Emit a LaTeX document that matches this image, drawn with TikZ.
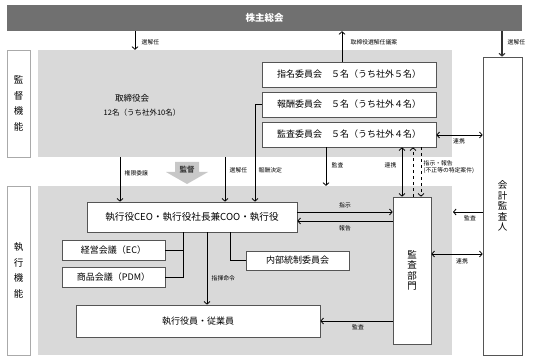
\documentclass[tikz,border=0pt]{standalone}
\usepackage{fontspec}
\newfontfamily\jp{Noto Sans CJK JP}
\usetikzlibrary{arrows.meta}
\definecolor{bardark}{HTML}{707070}
\definecolor{panel}{HTML}{D9D9D9}
\definecolor{boxline}{HTML}{555555}
\definecolor{sideline}{HTML}{AAAAAA}
\definecolor{supgray}{HTML}{C8C8C8}
\begin{document}
\begin{tikzpicture}[x=1pt,y=-1pt,
  box/.style={draw=boxline, fill=white, line width=0.7pt, inner sep=0pt, font=\jp\fontsize{9}{10.5}\selectfont},
  sidebox/.style={draw=sideline, fill=white, line width=0.6pt, inner sep=0pt, align=center, font=\jp\fontsize{9.5}{15.5}\selectfont},
  panelbox/.style={fill=panel, inner sep=0pt},
  lbl/.style={font=\jp\fontsize{5.8}{6.8}\selectfont, inner sep=0.5pt},
  arr/.style={-{Straight Barb[length=2.6pt,width=6pt]}, line width=0.8pt},
  darr/.style={{Straight Barb[length=2.6pt,width=6pt]}-{Straight Barb[length=2.6pt,width=6pt]}, line width=0.8pt},
  link/.style={line width=0.8pt}
]
\fill[white] (0,0) rectangle (534,363);
\useasboundingbox (0,0) rectangle (534,363);

% shareholders meeting
\node[fill=bardark, minimum width=515pt, minimum height=26pt, inner sep=0pt,
      text=white, font=\jp\bfseries\fontsize{9.5}{10}\selectfont] (bar) at (264.5,18) {株主総会};

% panels
\node[panelbox, minimum width=414pt, minimum height=107pt] (upper) at (245,103.5) {};
\node[panelbox, minimum width=414pt, minimum height=169pt] (lower) at (245,270.5) {};
\node[sidebox, minimum width=23pt, minimum height=107pt] (sup) at (18.5,103.5) {監\\督\\機\\能};
\node[sidebox, minimum width=23pt, minimum height=169pt] (exe) at (18.5,270.5) {執\\行\\機\\能};

% board
\node[font=\jp\fontsize{8.5}{10}\selectfont, inner sep=0pt] (board) at (132,98) {取締役会};
\node[font=\jp\fontsize{7.5}{9}\selectfont, inner sep=0pt] (boardn) at (142,113) {12名（うち社外10名）};

% committees
\node[box, minimum width=174pt, minimum height=25pt] (nom) at (349,74.5) {指名委員会　５名（うち社外５名）};
\node[box, minimum width=174pt, minimum height=25pt] (rem) at (349,104.5) {報酬委員会　５名（うち社外４名）};
\node[box, minimum width=174pt, minimum height=25pt] (aud) at (349,134.5) {監査委員会　５名（うち社外４名）};

% accounting auditor and audit department
\node[box, minimum width=39pt, minimum height=298pt, align=center, font=\jp\fontsize{9.5}{10.5}\selectfont] (acc) at (502.5,206) {会\\計\\監\\査\\人};
\node[box, minimum width=38pt, minimum height=147pt, align=center, font=\jp\fontsize{9.5}{10.5}\selectfont] (dept) at (412,270.5) {監\\査\\部\\門};

% execution boxes
\node[box, minimum width=210pt, minimum height=30pt, font=\jp\fontsize{9.6}{11}\selectfont] (ceo) at (192,217) {執行役CEO・執行役社長兼COO・執行役};
\node[box, minimum width=103pt, minimum height=20pt] (ec) at (113.5,250) {経営会議（EC）};
\node[box, minimum width=103pt, minimum height=20pt] (pdm) at (113.5,277) {商品会議（PDM）};
\node[box, minimum width=103pt, minimum height=19pt] (icc) at (297.5,260.5) {内部統制委員会};
\node[box, minimum width=244pt, minimum height=32pt] (staff) at (198,321) {執行役員・従業員};

% supervision arrow
\fill[supgray] (175,162) -- (199,162) -- (199,172) -- (208,172) -- (187,184) -- (166,172) -- (175,172) -- cycle;
\node[font=\jp\bfseries\fontsize{7.5}{9}\selectfont, text=black!75, inner sep=0pt] (suplbl) at (187,170) {監督};

% x / y helper coordinates
\coordinate (x135) at (135,0);
\coordinate (x342) at (342,0);
\coordinate (x502) at (502,0);
\coordinate (x326) at (326,0);
\coordinate (x402) at (402,0);
\coordinate (x413) at (413,0);
\coordinate (x421) at (421,0);
\coordinate (x120) at (120,0);
\coordinate (x225) at (225,0);
\coordinate (x255) at (255,0);
\coordinate (x183) at (183,0);
\coordinate (x207) at (207,0);
\coordinate (x230) at (230,0);
\coordinate (y135) at (0,135);
\coordinate (y212) at (0,212);
\coordinate (y221) at (0,221);
\coordinate (y254) at (0,254);
\coordinate (y321) at (0,321);
\coordinate (accin) at (453,212);

% connectors top
\draw[arr] (bar.south -| x135) -- (upper.north -| x135);
\node[lbl, anchor=west] at (141,42) {選解任};
\draw[arr] (nom.north -| x342) -- (bar.south -| x342);
\node[lbl, anchor=west] at (350,42) {取締役選解任議案};
\draw[arr, draw=black!80, line width=1.1pt] (bar.south -| x502) -- (acc.north -| x502);
\node[lbl, anchor=west] at (507,42) {選解任};

\draw[darr] (aud.east |- y135) -- (acc.west |- y135);
\node[lbl] at (459,141) {連携};

\draw[arr] (aud.south -| x326) -- (lower.north -| x326);
\node[lbl, anchor=west] at (331,165) {監査};
\draw[darr] (aud.south -| x402) -- (dept.north -| x402);
\node[lbl, anchor=east] at (397,165) {連携};
\draw[arr, dashed] (dept.north -| x413) -- (aud.south -| x413);
\draw[arr, dashed] (aud.south -| x421) -- (dept.north -| x421);
\node[lbl, anchor=west, align=left] at (423,167) {指示・報告\\(不正等の特定案件)};

\draw[arr] (upper.south -| x120) -- (ceo.north -| x120);
\node[lbl, anchor=west] at (124,173) {権限委譲};
\draw[arr] (upper.south -| x225) -- (ceo.north -| x225);
\node[lbl, anchor=west] at (229,170) {選解任};
\draw[arr] (rem.west) -| (ceo.north -| x255);
\node[lbl, anchor=west] at (258,170) {報酬決定};

% connectors execution
\draw[arr] (ceo.east |- y212) -- (dept.west |- y212);
\node[lbl] at (345,205) {指示};
\draw[arr] (dept.west |- y221) -- (ceo.east |- y221);
\node[lbl] at (345,228) {報告};

\draw[link] (ceo.south -| x183) |- (pdm.east);
\draw[link] (ec.east) -- (ec.east -| x183);
\draw[arr] (ceo.south -| x207) -- (staff.north -| x207);
\node[lbl, anchor=west] at (211,278) {指揮命令};
\draw[link] (ceo.south -| x230) |- (icc.west);

\draw[arr] (dept.west |- y321) -- (staff.east |- y321);
\node[lbl] at (358,327) {監査};
\draw[arr] (acc.west |- y212) -- (accin);
\node[lbl] at (470,218) {監査};
\draw[darr] (dept.east |- y254) -- (acc.west |- y254);
\node[lbl] at (462,261) {連携};
\end{tikzpicture}
\end{document}
